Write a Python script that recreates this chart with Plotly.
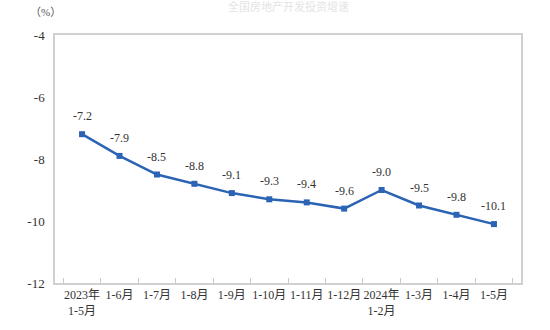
import plotly.graph_objects as go

categories = ["2023年<br>1-5月", "1-6月", "1-7月", "1-8月", "1-9月", "1-10月", "1-11月",
              "1-12月", "2024年<br>1-2月", "1-3月", "1-4月", "1-5月"]
values = [-7.2, -7.9, -8.5, -8.8, -9.1, -9.3, -9.4, -9.6, -9.0, -9.5, -9.8, -10.1]
y_ticks = [-4, -6, -8, -10, -12]
title_text = "全国房地产开发投资增速"
unit_text = "（%）"

FONT = "Liberation Serif, Times New Roman, Noto Sans CJK SC, serif"
LINE = "#2b63b5"

fig = go.Figure()
fig.add_trace(go.Scatter(
    x=categories, y=values, mode="lines+markers",
    line=dict(color=LINE, width=2.5),
    marker=dict(symbol="square", size=6, color=LINE),
    hoverinfo="skip", showlegend=False,
))

annotations = [
    dict(x=c, y=v, text=f"{v:.1f}", showarrow=False, yshift=18, xref="x", yref="y",
         font=dict(family=FONT, size=12, color="#333333"))
    for c, v in zip(categories, values)
]
annotations.append(dict(xref="paper", yref="paper", x=-0.02, y=1.0, yshift=23,
                        text=unit_text, showarrow=False, xanchor="center", yanchor="middle",
                        font=dict(family=FONT, size=11, color="#555555")))
annotations.append(dict(xref="paper", yref="paper", x=0.5, y=1.0, yshift=29,
                        text=title_text, showarrow=False, xanchor="center", yanchor="middle",
                        font=dict(family=FONT, size=11, color="#e4e4e4")))

fig.update_layout(
    width=550, height=330,
    margin=dict(l=55, r=29, t=35, b=47),
    paper_bgcolor="white", plot_bgcolor="white",
    font=dict(family=FONT, size=12, color="#333333"),
    annotations=annotations,
    xaxis=dict(
        type="category", tickson="boundaries", ticks="inside", ticklen=5,
        tickcolor="#c8c8c8", showline=True, linecolor="#d0d0d0", linewidth=1.5,
        mirror=True, showgrid=False, zeroline=False, tickangle=0,
        tickfont=dict(family=FONT, size=12, color="#333333"),
    ),
    yaxis=dict(
        range=[-12, -4], tickvals=y_ticks, ticktext=[str(t) for t in y_ticks],
        showline=True, linecolor="#d0d0d0", linewidth=1.5, mirror=True,
        showgrid=False, zeroline=False, ticks="", ticklabelstandoff=6,
        tickfont=dict(family=FONT, size=13, color="#333333"),
    ),
)

fig.write_html("out.html")
